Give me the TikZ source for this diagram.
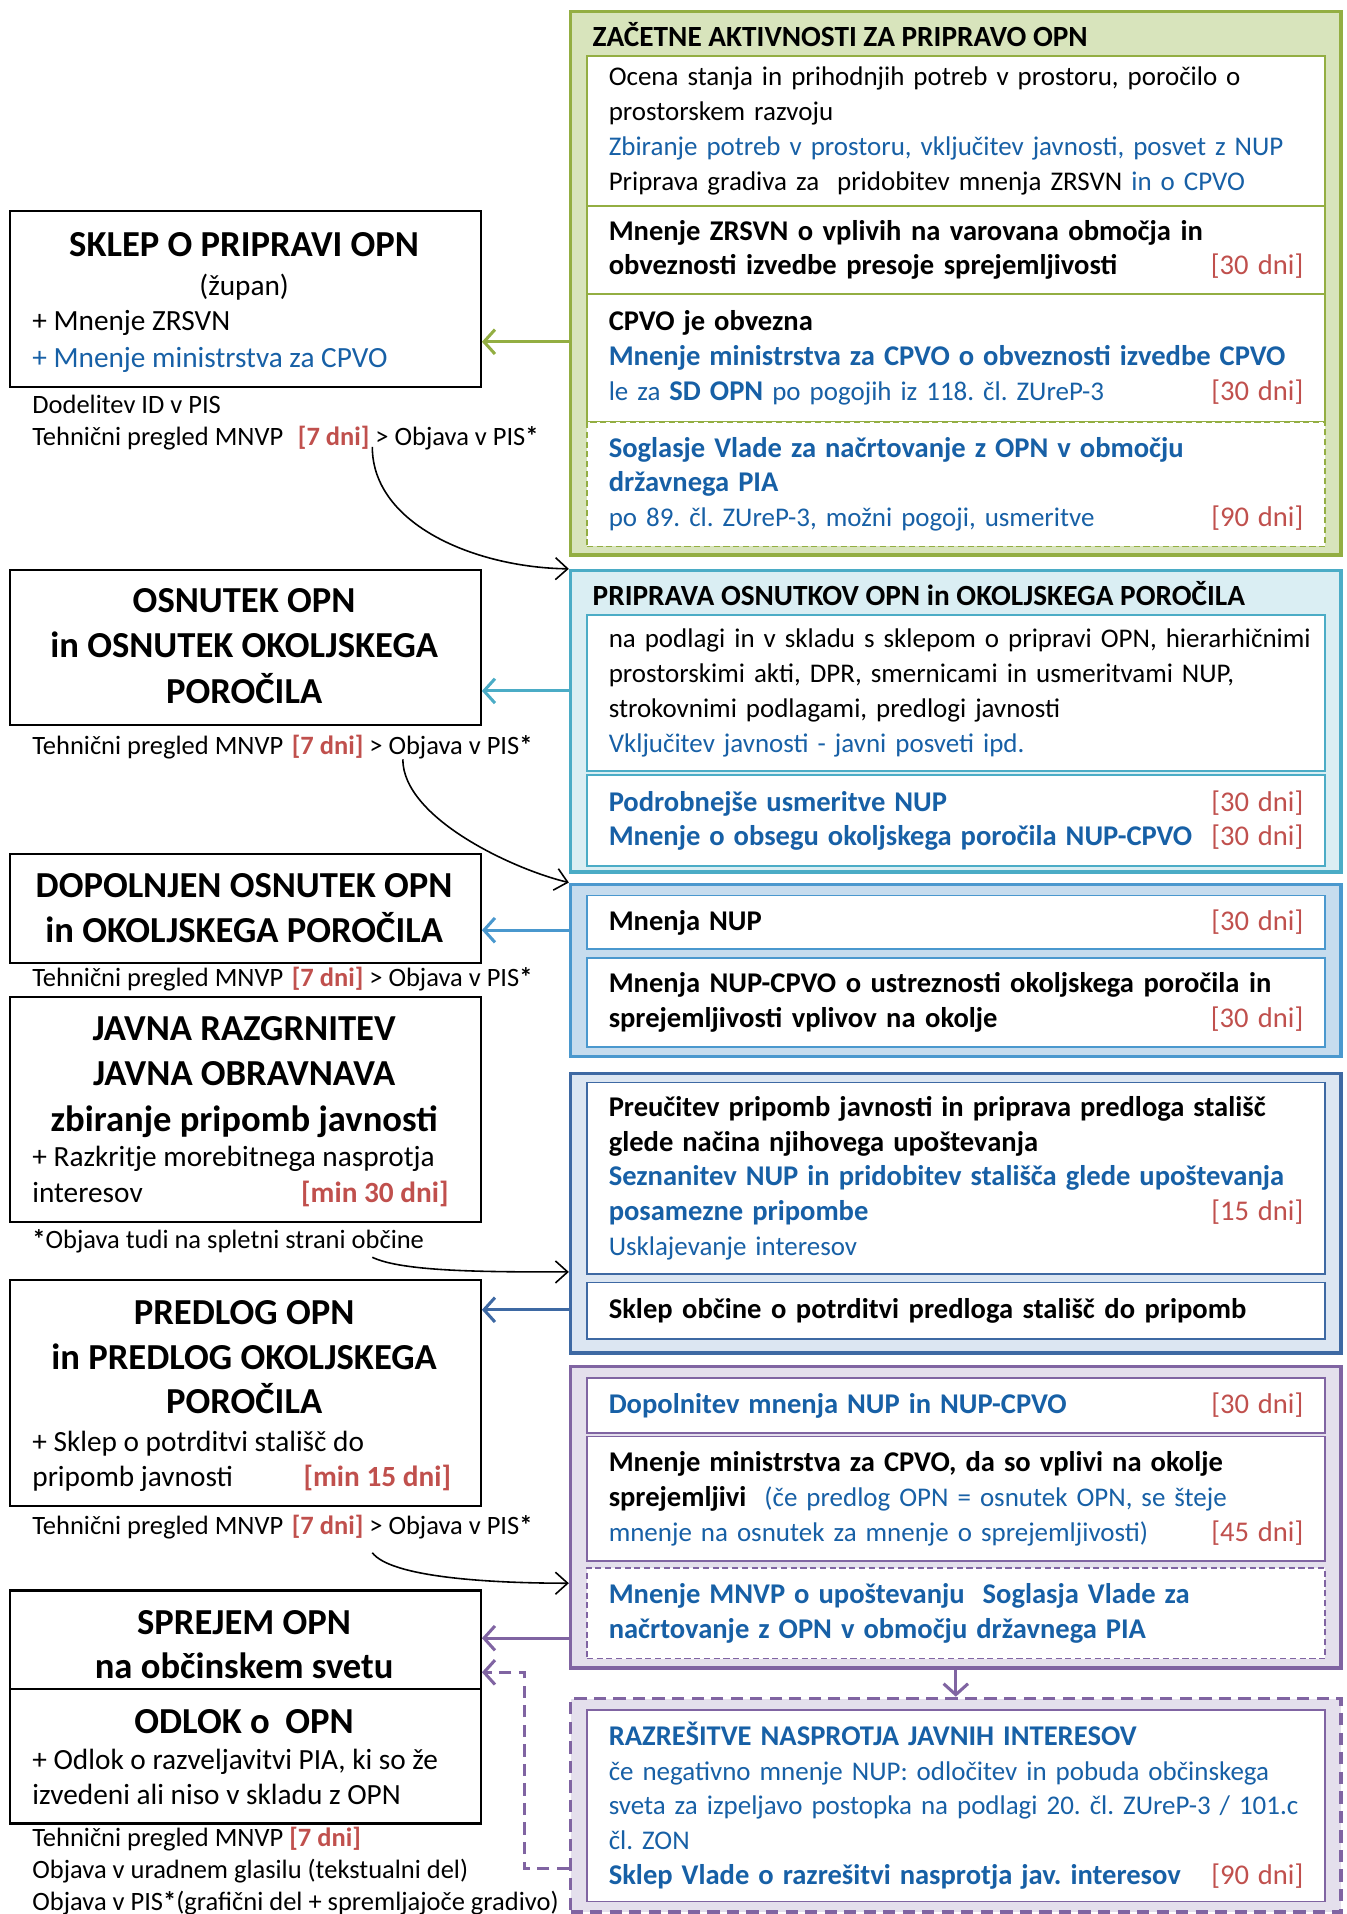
\documentclass[tikz,border=0pt]{standalone}
\usepackage{fontspec}
\setmainfont{Carlito}
\usetikzlibrary{arrows.meta}
\definecolor{grn}{HTML}{93AE42}
\definecolor{grnfill}{HTML}{D8E4BC}
\definecolor{cyn}{HTML}{4BACC6}
\definecolor{cynfill}{HTML}{DAEEF3}
\definecolor{mbl}{HTML}{4A98CE}
\definecolor{mblfill}{HTML}{C6DCEE}
\definecolor{dbl}{HTML}{3E69A3}
\definecolor{dblfill}{HTML}{DCE6F2}
\definecolor{prp}{HTML}{8064A2}
\definecolor{prpfill}{HTML}{E4DFEC}
\definecolor{txtblue}{HTML}{1760A6}
\definecolor{dnired}{HTML}{C0504D}
\frenchspacing
\newcommand\rtxt{\fontsize{22.1}{28.5}\selectfont}
\newcommand\rbold{\fontsize{23.4}{28.5}\selectfont\bfseries}
\newcommand\tb[1]{{\rbold #1}}
\newcommand\bl[1]{\textcolor{txtblue}{#1}}
\newcommand\dni[1]{\hskip 0pt plus 1fill\textcolor{dnired}{\fontsize{23.4}{28.5}\selectfont\mdseries #1}}
\newcommand\pisast{\textbf{*}}
\tikzset{
  obox/.style={draw=#1, line width=3pt, anchor=north west, minimum width=631pt, inner sep=0pt},
  ibox/.style={draw=#1, line width=1.4pt, fill=white, anchor=north west, minimum width=605pt,
    text width=569pt, inner xsep=16pt, inner ysep=0pt, align=left, font=\rtxt},
  hdr/.style={anchor=base west, font=\fontsize{24}{28.5}\selectfont\bfseries},
  lbox/.style={draw=black, line width=1.8pt, anchor=north west, minimum width=386pt, inner sep=0pt},
  ttl/.style={anchor=base, font=\fontsize{30}{37}\selectfont\bfseries},
  ltxt/.style={anchor=base west, font=\fontsize{24}{29}\selectfont},
  stxt/.style={anchor=base west, font=\fontsize{21.7}{26}\selectfont},
  carr/.style={draw=#1, line width=2.5pt, -{Straight Barb[length=9pt,width=20pt,line width=2.5pt]}},
  karr/.style={line width=1.3pt, -{Straight Barb[length=10pt,width=18pt,line width=1.3pt]}},
  dsh/.style={dash pattern=on 5pt off 3pt}
}
\begin{document}
\begin{tikzpicture}[x=1pt,y=-1pt]
\useasboundingbox (0,0) rectangle (1103,1568);

% right column: outer frames
\node[obox=grn, fill=grnfill, minimum height=445pt] (gout) at (466,8) {};
\node[obox=cyn, fill=cynfill, minimum height=247pt] (cout) at (466,466) {};
\node[obox=mbl, fill=mblfill, minimum height=141pt] (mout) at (466,723) {};
\node[obox=dbl, fill=dblfill, minimum height=229pt] (dout) at (466,878) {};
\node[obox=prp, fill=prpfill, minimum height=247pt] (pout) at (466,1118) {};
\node[obox=prp, fill=prpfill, minimum height=175pt, dash pattern=on 10pt off 6pt] (rout) at (466,1390) {};

% green group
\node[hdr] (gtitle) at (482,38) {ZAČETNE AKTIVNOSTI ZA PRIPRAVO OPN};
\node[ibox=grn, minimum height=123pt] (g1) at (480,45) {Ocena stanja in prihodnjih potreb v prostoru, poročilo o\\
  prostorskem razvoju\\
  \bl{Zbiranje potreb v prostoru, vključitev javnosti, posvet z NUP}\\
  Priprava gradiva za~ pridobitev mnenja ZRSVN \bl{in o CPVO}};
\node[ibox=grn, minimum height=72pt, font=\rbold] (g2) at (480,168) {Mnenje ZRSVN o vplivih na varovana območja in\\
  obveznosti izvedbe presoje sprejemljivosti\dni{[30 dni]}};
\node[ibox=grn, minimum height=105pt] (g3) at (480,240) {\tb{CPVO je obvezna}\\
  \bl{\tb{Mnenje ministrstva za CPVO o obveznosti izvedbe CPVO}}\\
  \bl{le za \tb{SD OPN} po pogojih iz 118. čl. ZUreP-3}\dni{[30 dni]}};
\node[ibox=grn, dsh, minimum height=102pt] (g4) at (480,345) {\bl{\tb{Soglasje Vlade za načrtovanje z OPN v območju}}\\
  \bl{\tb{državnega PIA}}\\
  \bl{po 89. čl. ZUreP-3, možni pogoji, usmeritve}\dni{[90 dni]}};

% cyan group
\node[hdr] (ctitle) at (482,496) {PRIPRAVA OSNUTKOV OPN in OKOLJSKEGA POROČILA};
\node[ibox=cyn, minimum height=128pt] (c1) at (480,503) {\mbox{na podlagi in v skladu s sklepom o pripravi OPN, hierarhičnimi}\\
  prostorskimi akti, DPR, smernicami in usmeritvami NUP,\\
  strokovnimi podlagami, predlogi javnosti\\
  \bl{Vključitev javnosti - javni posveti ipd.}};
\node[ibox=cyn, minimum height=75pt] (c2) at (480,634) {\bl{\tb{Podrobnejše usmeritve NUP}}\dni{[30 dni]}\\
  \bl{\tb{Mnenje o obsegu okoljskega poročila NUP-CPVO}}\dni{[30 dni]}};

% medium blue group
\node[ibox=mbl, minimum height=44pt] (b1) at (480,733) {\tb{Mnenja NUP}\dni{[30 dni]}};
\node[ibox=mbl, minimum height=73pt, font=\rbold] (b2) at (480,784) {Mnenja NUP-CPVO o ustreznosti okoljskega poročila in\\
  sprejemljivosti vplivov na okolje\dni{[30 dni]}};

% dark blue group
\node[ibox=dbl, minimum height=157pt] (d1) at (480,886) {\tb{Preučitev pripomb javnosti in priprava predloga stališč}\\
  \tb{glede načina njihovega upoštevanja}\\
  \bl{\tb{\mbox{Seznanitev NUP in pridobitev stališča glede upoštevanja}}}\\
  \bl{\tb{posamezne pripombe}}\dni{[15 dni]}\\
  \bl{Usklajevanje interesov}};
\node[ibox=dbl, minimum height=46pt, font=\rbold] (d2) at (480,1050) {Sklep občine o potrditvi predloga stališč do pripomb};

% purple group
\node[ibox=prp, minimum height=45pt] (p1) at (480,1128) {\bl{\tb{Dopolnitev mnenja NUP in NUP-CPVO}}\dni{[30 dni]}};
\node[ibox=prp, minimum height=102pt] (p2) at (480,1176) {\tb{Mnenje ministrstva za CPVO, da so vplivi na okolje}\\
  \tb{sprejemljivi}~ \bl{(če predlog OPN = osnutek OPN, se šteje}\\
  \bl{mnenje na osnutek za mnenje o sprejemljivosti)}\dni{[45 dni]}};
\node[ibox=prp, dsh, minimum height=74pt] (p3) at (480,1284) {\bl{\tb{Mnenje MNVP o upoštevanju~ Soglasja Vlade za}}\\
  \bl{\tb{načrtovanje z OPN v območju državnega PIA}}};
\node[ibox=prp, minimum height=157pt] (r1) at (480,1400) {\bl{\tb{RAZREŠITVE NASPROTJA JAVNIH INTERESOV}}\\
  \bl{če negativno mnenje NUP: odločitev in pobuda občinskega}\\
  \bl{\mbox{sveta za izpeljavo postopka na podlagi 20. čl. ZUreP-3 / 101.c}}\\
  \bl{čl. ZON}\\
  \bl{\tb{Sklep Vlade o razrešitvi nasprotja jav. interesov}}\dni{[90 dni]}};

% left column
\node[lbox, minimum height=144pt] (sklep) at (7,172) {};
\node[ttl] (sklepT) at (200,210) {SKLEP O PRIPRAVI OPN};
\node[ltxt, anchor=base] (zupan) at (200,242) {(župan)};
\node[ltxt] (sklepA) at (23,271) {+ Mnenje ZRSVN};
\node[ltxt] (sklepB) at (23,301) {\bl{+ Mnenje ministrstva za CPVO}};
\node[stxt] (sklepC) at (23,339) {Dodelitev ID v PIS};
\node[stxt] (sklepD) at (23,365) {Tehnični pregled MNVP\hspace{12pt}\textcolor{dnired}{\bfseries[7 dni]} > Objava v PIS\pisast};

\node[lbox, minimum height=127pt] (osn) at (7,466) {};
\node[ttl] (osnA) at (200,502) {OSNUTEK OPN};
\node[ttl] (osnB) at (200,539) {in OSNUTEK OKOLJSKEGA};
\node[ttl] (osnC) at (200,576) {POROČILA};
\node[stxt] (osnD) at (23,618) {Tehnični pregled MNVP\hspace{7pt}\textcolor{dnired}{\bfseries[7 dni]} > Objava v PIS\pisast};

\node[lbox, minimum height=89pt] (dop) at (7,699) {};
\node[ttl] (dopA) at (200,735) {DOPOLNJEN OSNUTEK OPN};
\node[ttl] (dopB) at (200,772) {in OKOLJSKEGA POROČILA};
\node[stxt] (dopC) at (23,808) {Tehnični pregled MNVP\hspace{7pt}\textcolor{dnired}{\bfseries[7 dni]} > Objava v PIS\pisast};

\node[lbox, minimum height=184pt] (jav) at (7,816) {};
\node[ttl] (javA) at (200,852) {JAVNA RAZGRNITEV};
\node[ttl] (javB) at (200,889) {JAVNA OBRAVNAVA};
\node[ttl] (javC) at (200,927) {zbiranje pripomb javnosti};
\node[ltxt] (javD) at (23,956) {+ Razkritje morebitnega nasprotja};
\node[ltxt] (javE) at (23,985) {interesov};
\node[ltxt, anchor=base east] (javF) at (371,985) {\textcolor{dnired}{\bfseries[min 30 dni]}};
\node[stxt] (javG) at (23,1023) {\pisast Objava tudi na spletni strani občine};

\node[lbox, minimum height=185pt] (pred) at (7,1048) {};
\node[ttl] (predA) at (200,1085) {PREDLOG OPN};
\node[ttl] (predB) at (200,1122) {in PREDLOG OKOLJSKEGA};
\node[ttl] (predC) at (200,1158) {POROČILA};
\node[ltxt] (predD) at (23,1189) {+ Sklep o potrditvi stališč do};
\node[ltxt] (predE) at (23,1218) {pripomb javnosti};
\node[ltxt, anchor=base east] (predF) at (373,1218) {\textcolor{dnired}{\bfseries[min 15 dni]}};
\node[stxt] (predG) at (23,1257) {Tehnični pregled MNVP\hspace{7pt}\textcolor{dnired}{\bfseries[7 dni]} > Objava v PIS\pisast};

\node[lbox, minimum height=81pt] (sprejem) at (7,1302) {};
\node[ttl] (sprejemA) at (200,1339) {SPREJEM OPN};
\node[ttl] (sprejemB) at (200,1375) {na občinskem svetu};
\node[lbox, minimum height=110pt] (odlok) at (7,1383) {};
\node[ttl] (odlokA) at (200,1420) {ODLOK o\hspace{6pt} OPN};
\node[ltxt] (odlokB) at (23,1450) {+ Odlok o razveljavitvi PIA, ki so že};
\node[ltxt] (odlokC) at (23,1478) {izvedeni ali niso v skladu z OPN};
\node[stxt] (odlokD) at (23,1513) {Tehnični pregled MNVP \textcolor{dnired}{\bfseries[7 dni]}};
\node[stxt] (odlokE) at (23,1539) {Objava v uradnem glasilu (tekstualni del)};
\node[stxt] (odlokF) at (23,1565) {Objava v PIS\pisast(grafični del + spremljajoče gradivo)};

% coloured arrows
\draw[carr=grn] (gout.west |- 0,280) -- (sklep.east |- 0,280);
\draw[carr=cyn] (cout.west |- 0,566) -- (osn.east |- 0,566);
\draw[carr=mbl] (mout.west |- 0,762) -- (dop.east |- 0,762);
\draw[carr=dbl] (dout.west |- 0,1073) -- (pred.east |- 0,1073);
\draw[carr=prp] (pout.west |- 0,1342) -- (sprejem.east |- 0,1342);
\coordinate (rbend) at (430,1450);
\draw[carr=prp, dash pattern=on 10pt off 6pt] (rout.west |- 0,1531) -| (rbend) |- (sprejem.east |- 0,1370);
\draw[carr=prp] (pout.south) -- (rout.north);

% black curves
\coordinate (k1) at (305,366);
\coordinate (k2) at (330,622);
\coordinate (k3) at (305,1030);
\coordinate (k4) at (305,1272);
\draw[karr] (k1) .. controls (305,430) and (390,465) .. (cout.north west);
\draw[karr] (k2) .. controls (330,670) and (420,712) .. (mout.north west);
\draw[karr] (k3) .. controls (330,1042) and (400,1042) .. (dout.west |- 0,1042);
\draw[karr] (k4) .. controls (320,1292) and (400,1297) .. (pout.west |- 0,1297);

\end{tikzpicture}
\end{document}
